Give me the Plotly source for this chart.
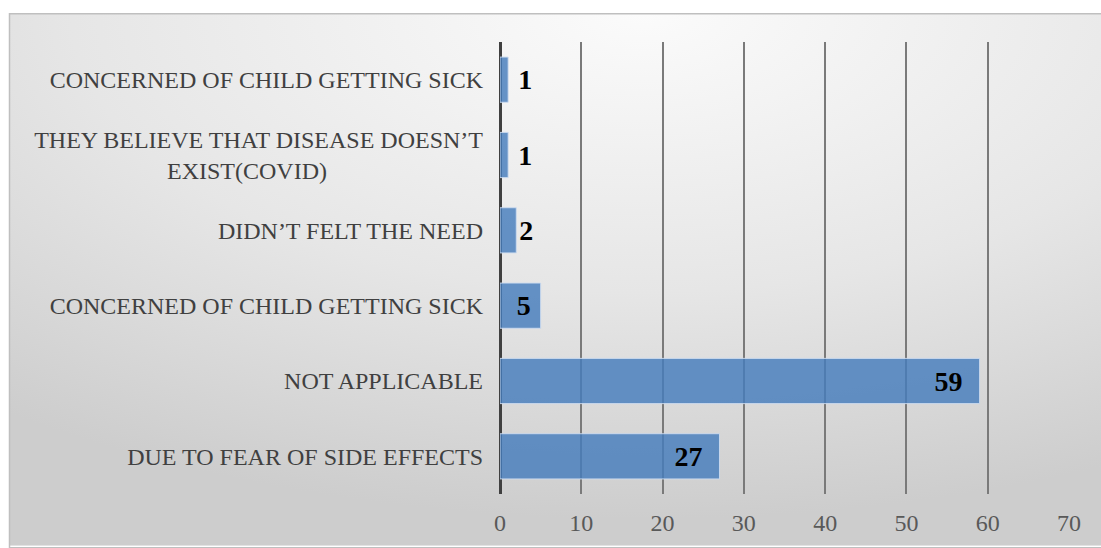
import base64
import plotly.graph_objects as go

# ---- data (bottom to top) ----
categories = [
    "DUE TO FEAR OF SIDE EFFECTS",
    "NOT APPLICABLE",
    "CONCERNED OF CHILD GETTING SICK",
    "DIDN\u2019T FELT THE NEED",
    "THEY BELIEVE THAT DISEASE DOESN\u2019T<br>EXIST(COVID)" + "\u00a0" * 26,
    "CONCERNED OF CHILD GETTING SICK",
]
values = [27, 59, 5, 2, 1, 1]
label_pos = ["inside", "inside", "inside", "outside", "outside", "outside"]
x_ticks = [0, 10, 20, 30, 40, 50, 60, 70]

positions = list(range(len(categories)))
NB = "\u00a0"
labels = []
for v, p in zip(values, label_pos):
    if p == "inside":
        labels.append(f"{v}{NB}{NB}" if v >= 10 else f"{v}{NB}")
    elif v < 2:
        labels.append(f"{NB}{v}")
    else:
        labels.append(f"{v}")

# background gradient as svg
svg = (
    '<svg xmlns="http://www.w3.org/2000/svg" width="1092" height="535" preserveAspectRatio="none">'
    '<defs><radialGradient id="g" cx="0.58" cy="0.0" r="0.95" fx="0.58" fy="0.0">'
    '<stop offset="0" stop-color="#fbfbfb"/>'
    '<stop offset="0.55" stop-color="#e6e6e6"/>'
    '<stop offset="1" stop-color="#cdcdcd"/>'
    '</radialGradient></defs>'
    '<rect x="0" y="0" width="1092" height="535" fill="url(#g)"/>'
    '</svg>'
)
src = "data:image/svg+xml;base64," + base64.b64encode(svg.encode()).decode()

L, R, T, B = 500, 32, 42, 52
W, H = 1101, 548
pw = W - L - R
ph = H - T - B

def px(xp):
    return (xp - L) / pw

def py(yp):
    return (H - B - yp) / ph

font_val = dict(family="Liberation Serif", size=28, color="black", weight="bold")

fig = go.Figure()
fig.add_trace(go.Bar(
    x=values,
    y=positions,
    orientation="h",
    width=0.6,
    marker=dict(color="rgba(70,125,188,0.82)",
                line=dict(color="rgba(205,220,240,0.9)", width=1)),
    text=labels,
    textposition=label_pos,
    insidetextanchor="end",
    textfont=font_val,
    insidetextfont=font_val,
    outsidetextfont=font_val,
    cliponaxis=False,
    hoverinfo="x+y",
))

fig.update_layout(
    width=W, height=H,
    margin=dict(l=L, r=R, t=T, b=B),
    paper_bgcolor="white",
    plot_bgcolor="rgba(0,0,0,0)",
    showlegend=False,
    images=[dict(source=src, xref="paper", yref="paper",
                 x=px(9), y=py(13), sizex=px(W) - px(9), sizey=py(13) - py(H),
                 sizing="stretch", layer="below", xanchor="left", yanchor="top")],
    shapes=[dict(type="rect", xref="paper", yref="paper",
                 x0=px(9.5), x1=px(W + 2), y0=py(13.5), y1=py(H + 2),
                 line=dict(color="#bfbfbf", width=1.5), fillcolor="rgba(0,0,0,0)",
                 layer="below")],
    xaxis=dict(range=[0, 70], tickvals=x_ticks, showgrid=True,
               gridcolor="#7a7a7a", gridwidth=2,
               zeroline=True, zerolinecolor="#404040", zerolinewidth=3,
               showline=False, ticks="",
               tickfont=dict(family="Liberation Serif", size=24, color="#595959"),
               ticklabelstandoff=12, fixedrange=True),
    yaxis=dict(range=[-0.5, 5.5], tickvals=positions, ticktext=categories,
               showgrid=False, zeroline=False, showline=False, ticks="",
               tickfont=dict(family="Liberation Serif", size=24, color="#404040"),
               ticklabelstandoff=16, fixedrange=True),
)

fig.write_html("out.html")
